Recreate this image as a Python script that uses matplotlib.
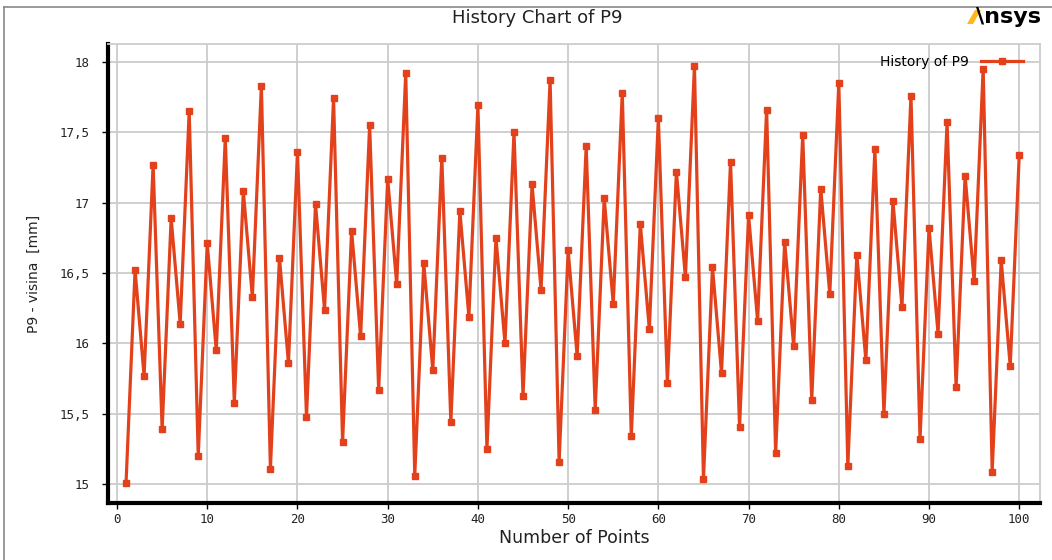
import numpy as np
import matplotlib.pyplot as plt
from matplotlib.lines import Line2D
from matplotlib.patches import Polygon

# Data
points = np.arange(1, 101)
p9 = [15.01, 16.52, 15.77, 17.27, 15.39, 16.89, 16.14, 17.65, 15.20, 16.71,
      15.95, 17.46, 15.58, 17.08, 16.33, 17.83, 15.11, 16.61, 15.86, 17.36,
      15.48, 16.99, 16.24, 17.74, 15.30, 16.80, 16.05, 17.55, 15.67, 17.17,
      16.42, 17.92, 15.06, 16.57, 15.81, 17.32, 15.44, 16.94, 16.19, 17.69,
      15.25, 16.75, 16.00, 17.50, 15.63, 17.13, 16.38, 17.87, 15.16, 16.66,
      15.91, 17.40, 15.53, 17.03, 16.28, 17.78, 15.34, 16.85, 16.10, 17.60,
      15.72, 17.22, 16.47, 17.97, 15.04, 16.54, 15.79, 17.29, 15.41, 16.91,
      16.16, 17.66, 15.22, 16.72, 15.98, 17.48, 15.60, 17.10, 16.35, 17.85,
      15.13, 16.63, 15.88, 17.38, 15.50, 17.01, 16.26, 17.76, 15.32, 16.82,
      16.07, 17.57, 15.69, 17.19, 16.44, 17.95, 15.09, 16.59, 15.84, 17.34]
xticks = list(range(0, 101, 10))
yticks = [15, 15.5, 16, 16.5, 17, 17.5, 18]
ytick_labels = ['15', '15,5', '16', '16,5', '17', '17,5', '18']

color = '#e2411b'
W, H = 1052, 560

fig = plt.figure(figsize=(W / 100, H / 100), dpi=100)
ax = fig.add_axes([108 / W, 1 - 503 / H, (1040 - 108) / W, (503 - 44) / H])

ax.plot(points, p9, color=color, lw=2.3, marker='s', ms=5, label='History of P9')

ax.set_xlim(-1.0, 102.3)
ax.set_ylim(14.867, 18.126)
ax.set_xticks(xticks)
ax.set_yticks(yticks)
ax.set_yticklabels(ytick_labels)
ax.grid(True, color='#cccccc', lw=1.3)
ax.set_axisbelow(True)

for s in ['top', 'right']:
    ax.spines[s].set_color('#cccccc')
    ax.spines[s].set_linewidth(1.3)
for s in ['left', 'bottom']:
    ax.spines[s].set_color('black')
    ax.spines[s].set_linewidth(3)
ax.tick_params(axis='both', length=4, width=1, color='black')
ax.tick_params(axis='x', pad=3.5)
ax.tick_params(axis='y', pad=9)
for lab in ax.get_xticklabels() + ax.get_yticklabels():
    lab.set_fontfamily('DejaVu Sans Mono')
    lab.set_fontsize(9)
    lab.set_color('#222222')

ax.set_xlabel('Number of Points', fontsize=12.5, color='#222222', labelpad=2)
ax.set_ylabel('P9 - visina  [mm]', fontsize=10, color='#222222', labelpad=14)

ax.legend(loc='upper right', bbox_to_anchor=(1030 / W, 1 - 48 / H),
          bbox_transform=fig.transFigure, frameon=False, markerfirst=False,
          handlelength=3.0, fontsize=10, borderpad=0, handletextpad=0.9)

fig.text(537 / W, 1 - 18 / H, 'History Chart of P9', ha='center', va='center',
         fontsize=13, color='#222222')

# Ansys logo
slash = [(967, 24), (973, 24), (981, 10), (975, 10)]
fig.add_artist(Polygon([(x / W, 1 - y / H) for x, y in slash], closed=True,
                       facecolor='#ffb71b', edgecolor='none', transform=fig.transFigure))
fig.text(976 / W, 1 - 17 / H, '\\nsys', ha='left', va='center', fontsize=16,
         fontweight='heavy', color='black')

# outer frame
fig.add_artist(Line2D([4 / W, 1], [1 - 7 / H, 1 - 7 / H], color='#888888', lw=1.2))
fig.add_artist(Line2D([4 / W, 4 / W], [0, 1 - 7 / H], color='#888888', lw=1.2))

fig.savefig('out.png', dpi=100)
